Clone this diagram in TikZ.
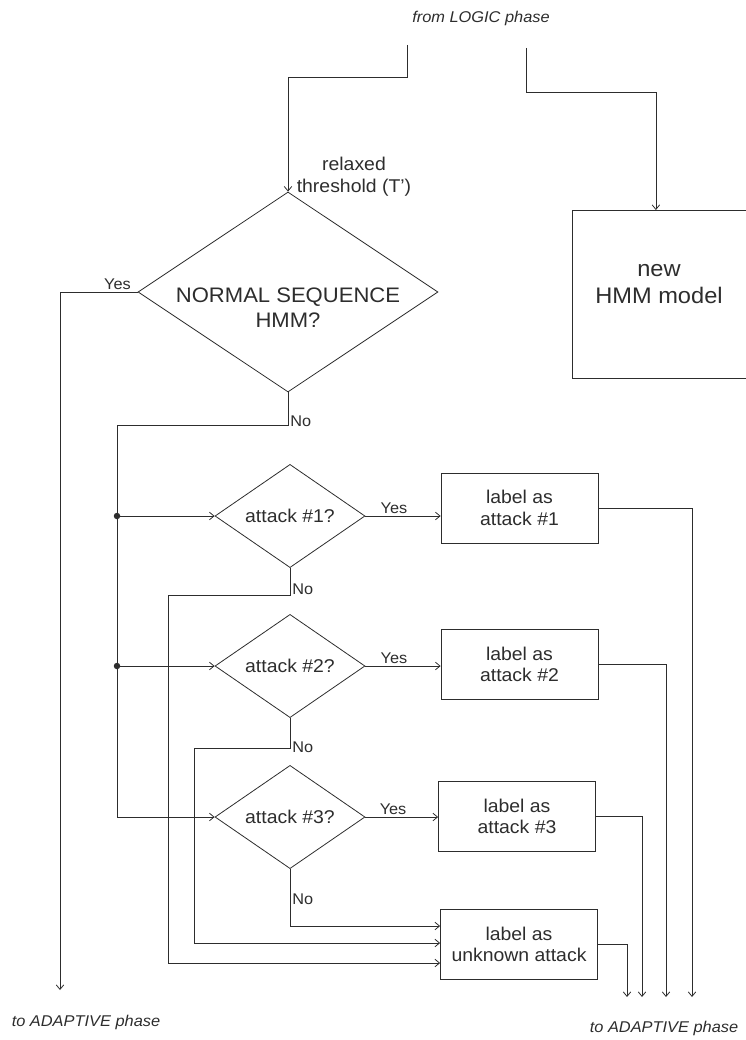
\documentclass[tikz,border=0pt]{standalone}
\usepackage{fontspec}
\setmainfont{Liberation Sans}[FakeStretch=1.05]
\usetikzlibrary{shapes}
\usetikzlibrary{positioning}
\usetikzlibrary{arrows.meta}
\definecolor{ink}{RGB}{45,45,45}
\tikzset{
    cell/.style = {rectangle, draw=ink, line width=0.8pt, minimum width=157pt, minimum height=70pt, inner sep=0pt, align=center, text=ink, font=\fontsize{18.5}{21.5}\selectfont},
    decision/.style = {diamond, draw=ink, line width=0.8pt, minimum width=150pt, minimum height=100pt, inner sep=0pt, align=center, text=ink, font=\fontsize{18.5}{21.5}\selectfont},
    txt/.style = {align=center, text=ink, font=\fontsize{18.5}{22}\selectfont},
    answer/.style = {text=ink, inner sep=2pt, font=\fontsize{15.5}{18}\selectfont},
    phase/.style = {text=ink, font=\itshape\fontsize{15.6}{18}\selectfont},
    joint/.style = {circle, fill=ink, inner sep=0pt, minimum size=6.5pt},
    edgen/.style = {-{Straight Barb[length=4.5pt,width=7.5pt]}, draw=ink, line width=0.8pt}
}

\begin{document}
\begin{tikzpicture}[x=1pt, y=-1pt]
  \useasboundingbox (0,0) rectangle (745,1040);
  % incoming
  \node[phase] (logic) at (481,18) {from LOGIC phase};
  \coordinate (logicl) at (407,45);
  \coordinate (logicr) at (526,48);
  \node[txt] (relax) at (354,177) {relaxed\\threshold (T')};
  % normal test
  \node[decision, minimum width=300pt, minimum height=200pt] (normal) at (288,292) {};
  \node[txt, font=\fontsize{21}{25}\selectfont] (normaltxt) at (288,308) {NORMAL SEQUENCE\\HMM?};
  % new model
  \node[cell, minimum width=175pt, minimum height=168pt, anchor=north west] (model) at (572,210) {};
  \node[txt, font=\fontsize{22.5}{27}\selectfont] (modeltxt) at (659,284) {new\\HMM model};
  % attack tests
  \node[decision] (att1) at (290,516) {attack \#1?};
  \node[decision] (att2) at (290,666) {attack \#2?};
  \node[decision] (att3) at (290,817) {attack \#3?};
  \node[cell] (lab1) at (519.5,508) {label as\\attack \#1};
  \node[cell] (lab2) at (519.5,664.5) {label as\\attack \#2};
  \node[cell] (lab3) at (517,816.5) {label as\\attack \#3};
  \node[cell] (labu) at (519,944.5) {label as\\unknown attack};
  % outgoing
  \node[phase] (outl) at (86,1022) {to ADAPTIVE phase};
  \node[phase] (outr) at (664,1028) {to ADAPTIVE phase};
  \coordinate (outla) at (60,990);

  \draw[edgen] (logicl) -- ++(0,32) -| (normal.north);
  \draw[edgen] (logicr) -- ++(0,44) -| ([xshift=-4pt]model.north);
  \draw[edgen] (normal.west) -| node[answer, above, pos=0.13] {Yes} (outla);
  \draw[edgen] (normal.south) -- ++(0,33) node[answer, anchor=west, pos=0.88] {No}
    -- ++(-171,0) coordinate (bus) |- (att3.west);
  \draw[edgen] (bus |- att1.west) node[joint] (j1) {} -- (att1.west);
  \draw[edgen] (bus |- att2.west) node[joint] (j2) {} -- (att2.west);
  \foreach \a/\b in {att1/lab1, att2/lab2, att3/lab3}
    \draw[edgen] (\a.east) -- node[answer, above, pos=0.38] {Yes} (\a.east -| \b.west);
  \draw[edgen] (att1.south) -- ++(0,27) node[answer, anchor=west, pos=0.8] {No}
    -- ++(-122,0) |- ([yshift=-18.5pt]labu.west);
  \draw[edgen] (att2.south) -- ++(0,30) node[answer, anchor=west, pos=0.97] {No}
    -- ++(-96,0) |- ([yshift=1.5pt]labu.west);
  \draw[edgen] (att3.south) |- node[answer, anchor=west, pos=0.265] {No} ([yshift=18.5pt]labu.west);
  % to the adaptive phase
  \foreach \b/\x in {lab1/692, lab2/666, lab3/642, labu/627} {
    \coordinate (sink\b) at (\x,997);
    \draw[edgen] (\b.east) -| (sink\b);
  }
\end{tikzpicture}
\end{document}
